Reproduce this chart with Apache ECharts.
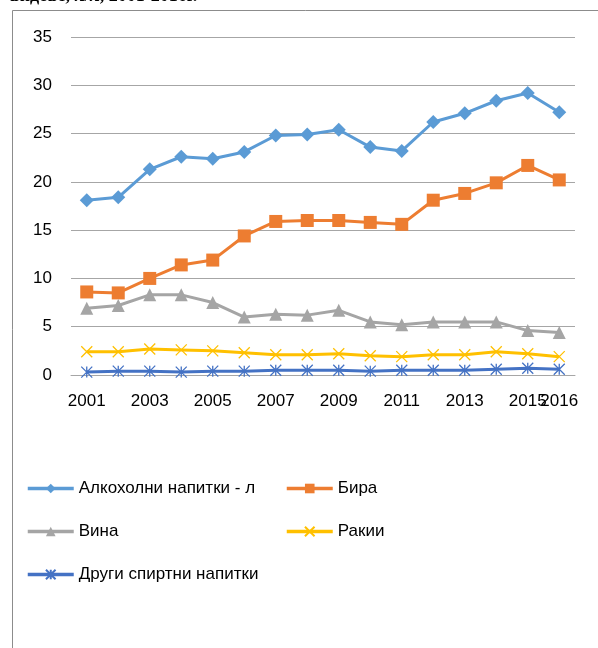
<!DOCTYPE html>
<html>
<head>
<meta charset="utf-8">
<script src="https://cdn.jsdelivr.net/npm/echarts@6/dist/echarts.min.js"></script>
<style>html,body{margin:0;padding:0;background:#fff;}#c{width:598px;height:648px;}</style>
</head>
<body>
<div id="c"></div>
<script>
var years = ['2001','2002','2003','2004','2005','2006','2007','2008','2009','2010','2011','2012','2013','2014','2015','2016'];
var alcohol = [18.1,18.4,21.3,22.6,22.4,23.1,24.8,24.9,25.4,23.6,23.2,26.2,27.1,28.4,29.2,27.2];
var beer = [8.6,8.5,10.0,11.4,11.9,14.4,15.9,16.0,16.0,15.8,15.6,18.1,18.8,19.9,21.7,20.2];
var wine = [6.9,7.2,8.3,8.3,7.5,6.0,6.3,6.2,6.7,5.5,5.2,5.5,5.5,5.5,4.6,4.4];
var rakia = [2.4,2.4,2.7,2.6,2.5,2.3,2.1,2.1,2.2,2.0,1.9,2.1,2.1,2.4,2.2,1.9];
var other = [0.3,0.4,0.4,0.3,0.4,0.4,0.5,0.5,0.5,0.4,0.5,0.5,0.5,0.6,0.7,0.6];
var names = ['Алкохолни напитки - л','Бира','Вина','Ракии','Други спиртни напитки'];
var yTicks = [0,5,10,15,20,25,30,35];

var FONT = 'Liberation Sans';
var xPath = 'path://M0,0 L10,10 M10,0 L0,10';
var starPath = 'path://M0,0 L10,10 M10,0 L0,10 M5,0 L5,10';

function mk(name, data, color, symbol, size, hollow) {
  var s = {
    name: name, type: 'line', data: data, symbol: symbol, symbolSize: size,
    showAllSymbol: true, xAxisIndex: 0,
    lineStyle: { color: color, width: 3 },
    itemStyle: { color: color },
    emphasis: { disabled: true }
  };
  if (hollow) {
    s.itemStyle = { color: 'rgba(0,0,0,0)', borderColor: color, borderWidth: 1.3 };
  }
  return s;
}

var legendCommon = {
  orient: 'vertical', itemWidth: 46, itemHeight: 12, itemGap: 26, padding: 0,
  textStyle: { fontSize: 17, fontFamily: FONT, color: '#000' },
  lineStyle: { width: 3.5 }
};

var labelCommon = { color: '#000', fontSize: 17, fontFamily: FONT, margin: 18, hideOverlap: false };

var chart = echarts.init(document.getElementById('c'), null, { renderer: 'canvas' });
chart.setOption({
  animation: false,
  backgroundColor: '#fff',
  graphic: [
    { type: 'rect', shape: { x: 12.5, y: 10.5, width: 700, height: 700 }, style: { fill: 'none', stroke: '#8c8c8c', lineWidth: 1 }, z: -1 },
    { type: 'text', x: 10, y: 5, style: { text: 'видове, л/л, 2001-2016г.', font: 'bold 18px "Liberation Serif"', fill: '#000', verticalAlign: 'bottom' } }
  ],
  grid: { left: 71, right: 23, top: 37, bottom: 273 },
  xAxis: [{
    type: 'category', data: years, boundaryGap: true,
    axisLine: { lineStyle: { color: '#a6a6a6' } },
    axisTick: { show: false },
    axisLabel: Object.assign({}, labelCommon, {
      interval: function (i) { return i % 2 === 0; }
    })
  }, {
    type: 'category', data: years, boundaryGap: true, position: 'bottom',
    axisLine: { show: false }, axisTick: { show: false }, splitLine: { show: false },
    axisLabel: Object.assign({}, labelCommon, {
      interval: function (i) { return i === years.length - 1; },
      showMinLabel: false, showMaxLabel: true
    })
  }],
  yAxis: {
    type: 'value', min: yTicks[0], max: yTicks[yTicks.length - 1], interval: 5,
    axisLine: { show: false }, axisTick: { show: false },
    splitLine: { lineStyle: { color: '#a6a6a6', width: 1 } },
    axisLabel: { color: '#000', fontSize: 17, fontFamily: FONT, margin: 19 }
  },
  legend: [
    Object.assign({}, legendCommon, { left: 26, top: 480, data: [names[0], names[2], names[4]] }),
    Object.assign({}, legendCommon, { left: 285, top: 480, data: [names[1], names[3]] })
  ],
  series: [
    mk(names[0], alcohol, '#5B9BD5', 'diamond', 14),
    mk(names[1], beer, '#ED7D31', 'rect', 13),
    mk(names[2], wine, '#A5A5A5', 'triangle', 13),
    mk(names[3], rakia, '#FFC000', xPath, 11, true),
    mk(names[4], other, '#4472C4', starPath, 11, true)
  ]
});
</script>
</body>
</html>
